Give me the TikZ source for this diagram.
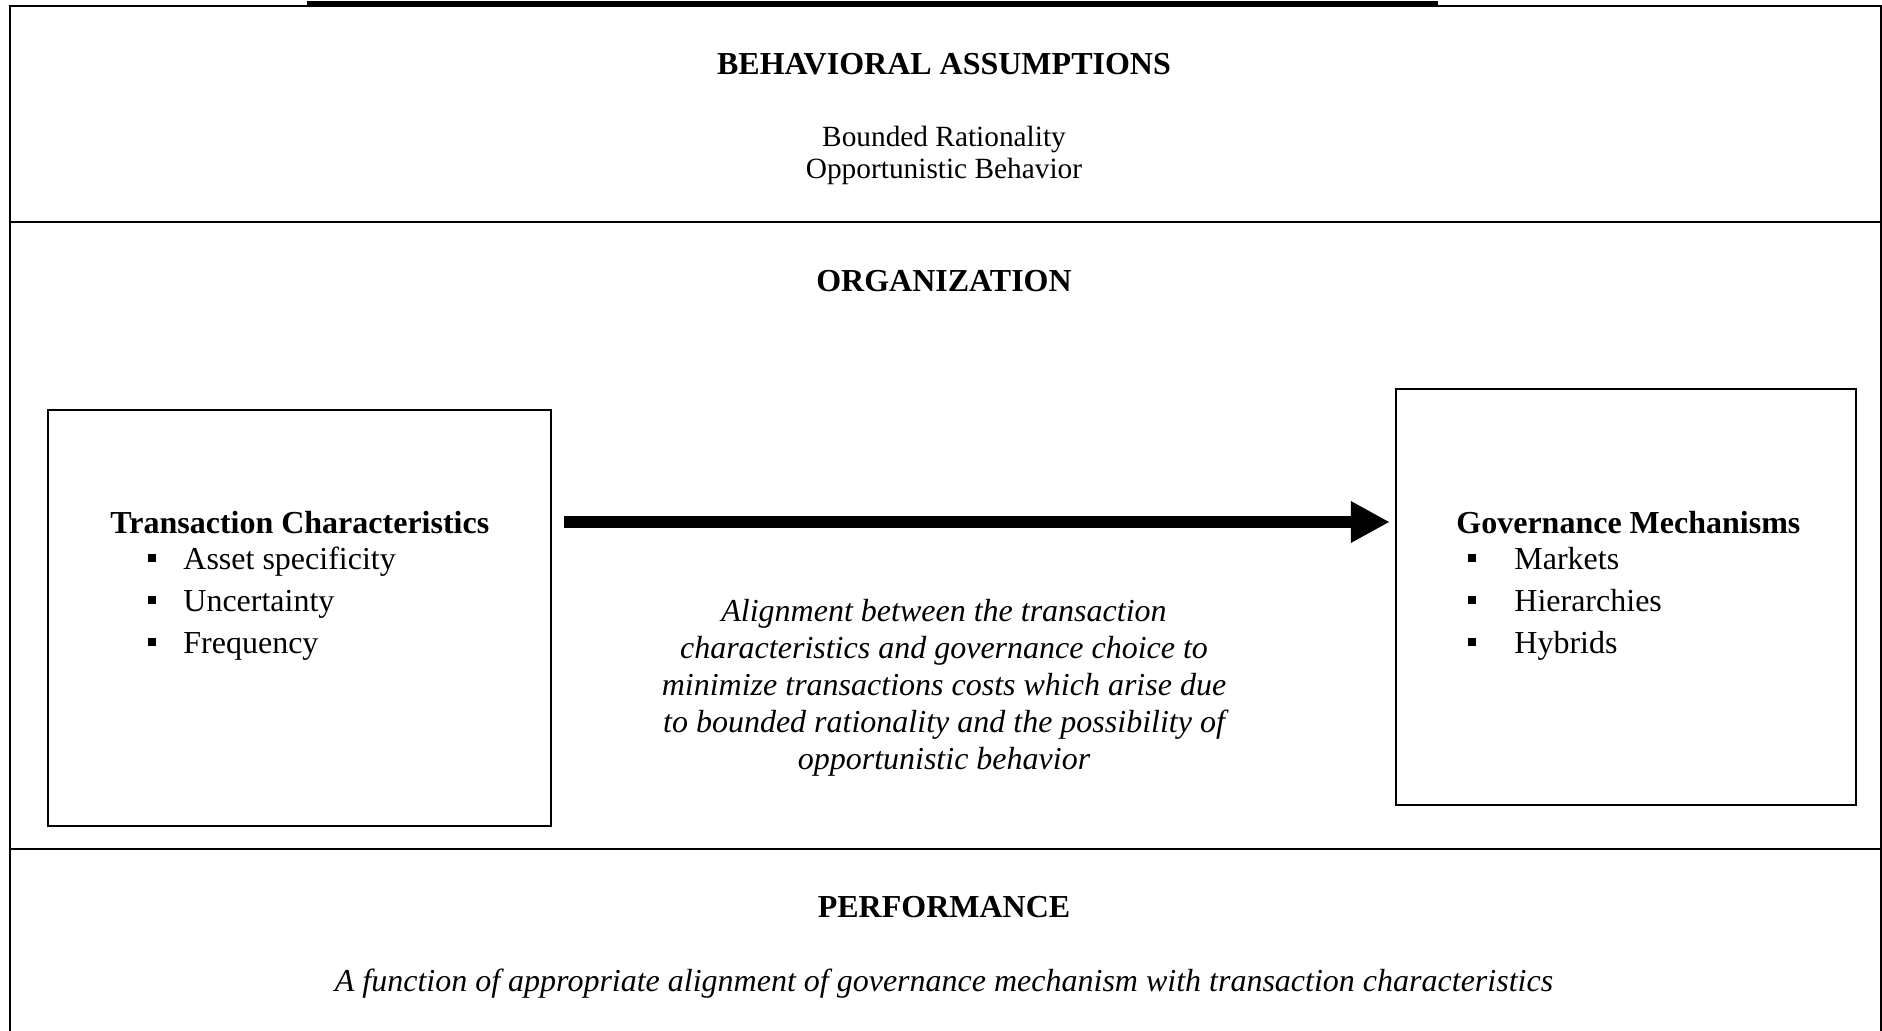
\documentclass[tikz,border=0pt]{standalone}
\usepackage{fontspec}
\setmainfont{Liberation Serif}
\usetikzlibrary{arrows.meta,calc}
\begin{document}
\begin{tikzpicture}[x=0.5pt,y=-0.5pt,
  rule/.style={line width=1pt},
  panel/.style={draw, line width=1.25pt, inner sep=0pt},
  title/.style={font=\fontsize{16}{19}\selectfont\bfseries, anchor=base, inner sep=0pt},
  boxtitle/.style={font=\fontsize{16}{19}\selectfont\bfseries, anchor=base west, inner sep=0pt},
  item/.style={font=\fontsize{16}{19}\selectfont, anchor=base west, inner sep=0pt},
  sq/.style={fill=black, inner sep=0pt, minimum size=4pt},
  bigarrow/.style={line width=5.8pt, -{Triangle[length=19.5pt,width=19.5pt]}}
]
\useasboundingbox (0,0) rectangle (1882,1031);

% outer frame, heavier strip along the top, and the two section dividers
\fill (307,1.5) rectangle (1438,7);
\draw[rule] (10,1031) -- (10,6) -- (1881,6) -- (1881,1031);
\draw[rule] (10,222) -- (1881,222);
\draw[rule] (10,849) -- (1881,849);

% behavioural assumptions
\node[title] (ba) at (944,75) {BEHAVIORAL ASSUMPTIONS};
\node[font=\fontsize{14.67}{16.2}\selectfont, align=center, anchor=base, inner sep=0pt] (bat) at (944,179)
  {Bounded Rationality\\Opportunistic Behavior};

% organization
\node[title] (org) at (944,292) {ORGANIZATION};

\node[panel, minimum width=251.5pt, minimum height=208pt] (tc) at (299.5,618) {};
\node[panel, minimum width=230pt, minimum height=208pt] (gm) at (1626,597) {};

\node[boxtitle] (tct) at (110,533) {Transaction Characteristics};
\node[sq] (tb1) at (152,558) {};
\node[sq] (tb2) at (152,600) {};
\node[sq] (tb3) at (152,642) {};
\node[item] (ti1) at (183,569) {Asset specificity};
\node[item] (ti2) at (183,611) {Uncertainty};
\node[item] (ti3) at (183,653) {Frequency};

\node[boxtitle] (gmt) at (1456,533) {Governance Mechanisms};
\node[sq] (gb1) at (1472,558) {};
\node[sq] (gb2) at (1472,600) {};
\node[sq] (gb3) at (1472,642) {};
\node[item] (gi1) at (1514,569) {Markets};
\node[item] (gi2) at (1514,611) {Hierarchies};
\node[item] (gi3) at (1514,653) {Hybrids};

\coordinate (ay) at (0,522);
\draw[bigarrow] ([xshift=6pt]tc.east |- ay) -- ([xshift=-2.5pt]gm.west |- ay);

\node[font=\fontsize{16}{18.5}\selectfont\itshape, align=center, anchor=base, inner sep=0pt] (align) at (944,769)
  {Alignment between the transaction\\characteristics and governance choice to\\minimize transactions costs which arise due\\to bounded rationality and the possibility of\\opportunistic behavior};

% performance
\node[title] (perf) at (944,917) {PERFORMANCE};
\node[font=\fontsize{16}{19}\selectfont\itshape, anchor=base, inner sep=0pt] (perft) at (944,991)
  {A function of appropriate alignment of governance mechanism with transaction characteristics};
\end{tikzpicture}
\end{document}
